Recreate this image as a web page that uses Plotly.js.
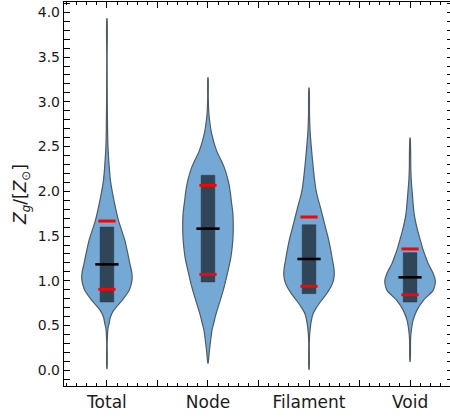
<!DOCTYPE html>
<html>
<head>
<meta charset="utf-8">
<script src="https://cdn.plot.ly/plotly-3.0.1.min.js"></script>
<style>
html, body { margin: 0; padding: 0; overflow: hidden; background: #fff; }
#chart { width: 454px; height: 418px; }
</style>
</head>
<body>
<div id="chart"></div>
<script>
// ---- data ----
const categories = ['Total', 'Node', 'Filament', 'Void'];
const positions = [1, 2, 3, 4];

// density profiles (value levels and relative density at each level)
const totalLevels  = [0.02, 0.30, 0.41, 0.48, 0.52, 0.59, 0.67, 0.78, 0.89, 0.95, 1.03, 1.10, 1.19, 1.30, 1.45, 1.67, 1.90, 2.12, 2.27, 2.54, 3.00, 3.50, 3.93];
const totalDensity = [0.15, 0.25, 0.6, 1.2, 2.1, 3.3, 6.7, 15, 22, 24, 25.3, 24.8, 23, 21, 18, 11.7, 7, 3.5, 2.3, 0.9, 0.35, 0.2, 0.15];

const nodeLevels  = [0.08, 0.20, 0.26, 0.35, 0.45, 0.54, 0.63, 0.76, 0.89, 1.00, 1.12, 1.25, 1.38, 1.50, 1.64, 1.77, 1.90, 2.00, 2.12, 2.27, 2.46, 2.65, 2.80, 2.90, 3.05, 3.27];
const nodeDensity = [0.15, 1.2, 1.8, 2.8, 4, 6, 8, 11.5, 15, 17.5, 20, 22.5, 24, 24.8, 25, 24.5, 23, 22, 20, 16, 8.3, 3.5, 1.5, 0.7, 0.3, 0.15];

const filamentLevels  = [0.01, 0.30, 0.41, 0.52, 0.63, 0.70, 0.78, 0.86, 0.93, 1.00, 1.08, 1.15, 1.23, 1.34, 1.45, 1.58, 1.71, 1.82, 1.94, 2.05, 2.27, 2.46, 2.65, 2.85, 3.155];
const filamentDensity = [0.15, 0.3, 0.7, 1.8, 4, 7.5, 12.5, 18, 22, 24.5, 25.5, 25, 23.7, 22, 20, 17, 14, 11.5, 8.5, 6.5, 4.2, 2.6, 1.2, 0.5, 0.15];

const voidLevels  = [0.10, 0.35, 0.45, 0.56, 0.67, 0.78, 0.89, 0.95, 1.00, 1.08, 1.19, 1.28, 1.36, 1.46, 1.56, 1.75, 1.98, 2.12, 2.27, 2.596];
const voidDensity = [0.15, 0.5, 1.3, 3, 6.7, 13, 22.7, 24.5, 25, 23, 18, 15, 12.5, 10, 7.5, 4, 2.2, 1.2, 0.7, 0.15];

// summary statistics
const medians   = [1.184, 1.583, 1.244, 1.039];
const lowerRed  = [0.905, 1.072, 0.939, 0.845];
const upperRed  = [1.668, 2.067, 1.713, 1.356];
const boxLow    = [0.763, 0.987, 0.857, 0.763];
const boxHigh   = [1.601, 2.179, 1.627, 1.315];

const yTickVals = [0, 0.5, 1, 1.5, 2, 2.5, 3, 3.5, 4];
const xHalfTicks = [0.5, 1.5, 2.5, 3.5, 4.5];

// ---- build traces ----
const profiles = [
  [totalLevels, totalDensity],
  [nodeLevels, nodeDensity],
  [filamentLevels, filamentDensity],
  [voidLevels, voidDensity]
];
const halfWidth = 0.25;   // violin max half-width (axis units)
const boxHalf = 0.068;
const medHalf = 0.115;
const redHalf = 0.085;

const traces = [];
profiles.forEach(function (pr, i) {
  const lv = pr[0], d = pr[1];
  const mx = Math.max.apply(null, d);
  const p = positions[i];
  const xs = [], ys = [];
  for (let k = 0; k < lv.length; k++) { xs.push(p + halfWidth * d[k] / mx); ys.push(lv[k]); }
  for (let k = lv.length - 1; k >= 0; k--) { xs.push(p - halfWidth * d[k] / mx); ys.push(lv[k]); }
  xs.push(xs[0]); ys.push(ys[0]);
  traces.push({
    type: 'scatter', mode: 'lines', x: xs, y: ys, fill: 'toself',
    fillcolor: '#74a9d5',
    line: { color: '#4f5b64', width: 1.2, shape: 'spline', smoothing: 0.6 },
    hoverinfo: 'skip', showlegend: false
  });
});

// inner boxes
positions.forEach(function (p, i) {
  traces.push({
    type: 'scatter', mode: 'lines',
    x: [p - boxHalf, p + boxHalf, p + boxHalf, p - boxHalf, p - boxHalf],
    y: [boxLow[i], boxLow[i], boxHigh[i], boxHigh[i], boxLow[i]],
    fill: 'toself', fillcolor: 'rgba(38,52,66,0.85)',
    line: { color: 'rgba(38,52,66,0.85)', width: 0.5 },
    hoverinfo: 'skip', showlegend: false
  });
});

// red quantile lines
const rx = [], ry = [];
positions.forEach(function (p, i) {
  rx.push(p - redHalf, p + redHalf, null, p - redHalf, p + redHalf, null);
  ry.push(lowerRed[i], lowerRed[i], null, upperRed[i], upperRed[i], null);
});
traces.push({ type: 'scatter', mode: 'lines', x: rx, y: ry, line: { color: '#ff0000', width: 3 }, hoverinfo: 'skip', showlegend: false });

// black median lines
const mxs = [], mys = [];
positions.forEach(function (p, i) {
  mxs.push(p - medHalf, p + medHalf, null);
  mys.push(medians[i], medians[i], null);
});
traces.push({ type: 'scatter', mode: 'lines', x: mxs, y: mys, line: { color: '#000000', width: 2.6 }, hoverinfo: 'skip', showlegend: false });

// invisible trace to carry the half-step tick axis
traces.push({ type: 'scatter', mode: 'none', x: positions, y: medians, xaxis: 'x2', yaxis: 'y', hoverinfo: 'skip', showlegend: false });

const layout = {
  width: 454, height: 418,
  margin: { l: 64, r: 1, t: 2, b: 32 },
  paper_bgcolor: '#ffffff', plot_bgcolor: '#ffffff',
  font: { family: 'DejaVu Sans', color: '#1a1a1a' },
  showlegend: false,
  xaxis: {
    range: [0.575, 4.425],
    tickmode: 'array', tickvals: positions, ticktext: categories,
    ticks: 'inside', ticklen: 6, tickwidth: 1, tickcolor: '#000',
    minor: { tickmode: 'linear', tick0: 0, dtick: 0.1, ticks: 'inside', ticklen: 3, tickwidth: 1, tickcolor: '#000', showgrid: false },
    showline: true, linecolor: '#000', linewidth: 1.2, mirror: 'allticks',
    showgrid: false, zeroline: false,
    tickfont: { size: 17, family: 'DejaVu Sans', color: '#1a1a1a' }
  },
  xaxis2: {
    overlaying: 'x', anchor: 'y', side: 'bottom',
    range: [0.575, 4.425],
    tickmode: 'array', tickvals: xHalfTicks,
    ticks: 'inside', ticklen: 6, tickwidth: 1, tickcolor: '#000',
    showticklabels: false, showline: false, mirror: 'ticks',
    showgrid: false, zeroline: false
  },
  yaxis: {
    range: [-0.175, 4.115],
    tickmode: 'array', tickvals: yTickVals, tickformat: '.1f',
    ticks: 'inside', ticklen: 6, tickwidth: 1, tickcolor: '#000',
    minor: { tickmode: 'linear', tick0: 0, dtick: 0.1, ticks: 'inside', ticklen: 3, tickwidth: 1, tickcolor: '#000', showgrid: false },
    showline: true, linecolor: '#000', linewidth: 1.2, mirror: 'allticks',
    showgrid: false, zeroline: false,
    tickfont: { size: 14, family: 'DejaVu Sans', color: '#1a1a1a' },
    title: { text: '<i>Z</i><sub><i>g</i></sub>/[<i>Z</i><sub>⊙</sub>]', font: { size: 17, family: 'DejaVu Sans', color: '#1a1a1a' }, standoff: 6 }
  }
};

Plotly.newPlot('chart', traces, layout, { staticPlot: true, displayModeBar: false });
</script>
</body>
</html>
